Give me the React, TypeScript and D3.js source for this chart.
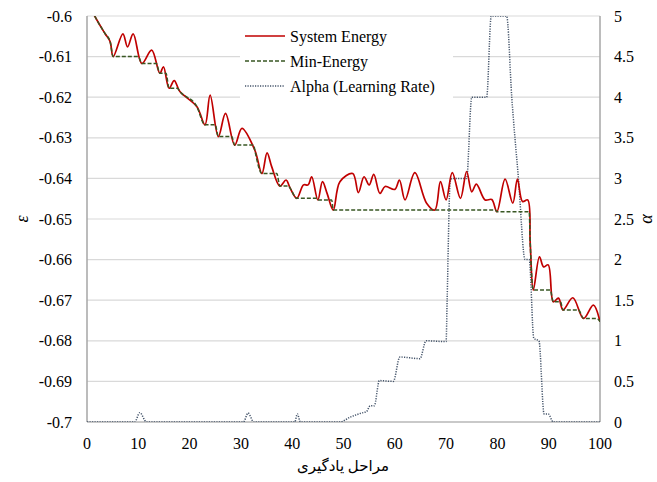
import React from "react";
import * as d3 from "d3";

const energyX = [0, 1.5, 3.5, 4.5, 5.1, 7.0, 7.9, 9.0, 10.7, 12.6, 14.2, 14.9, 16.0, 17.0, 18.1, 21.4, 23.0, 24.0, 25.6, 27.0, 28.8, 30.2, 32.7, 34.1, 35.1, 36.0, 37.6, 38.8, 39.6, 40.9, 42.2, 43.1, 43.8, 45.0, 45.9, 46.8, 48.0, 49.3, 51.8, 52.9, 54.0, 55.0, 55.9, 57.1, 58.1, 60.0, 60.9, 62.0, 63.9, 66.2, 67.8, 68.9, 70.0, 71.2, 72.8, 74.0, 75.0, 75.9, 77.6, 78.9, 79.9, 81.5, 83.0, 83.9, 84.9, 85.9, 86.4, 87.0, 88.2, 89.0, 89.9, 90.9, 91.9, 92.8, 94.7, 96.8, 98.7, 100];
const energyY = [-0.596, -0.6, -0.6043, -0.6063, -0.61, -0.6044, -0.6076, -0.6044, -0.6117, -0.6084, -0.6141, -0.6125, -0.6178, -0.6159, -0.6186, -0.6223, -0.6268, -0.6195, -0.6297, -0.624, -0.6318, -0.6277, -0.633, -0.6388, -0.6337, -0.6371, -0.6419, -0.6404, -0.6424, -0.6449, -0.6416, -0.6416, -0.6396, -0.6453, -0.6408, -0.6437, -0.6478, -0.6408, -0.6388, -0.6435, -0.6396, -0.6416, -0.639, -0.6437, -0.642, -0.6427, -0.6404, -0.6453, -0.6386, -0.6461, -0.6478, -0.6408, -0.6453, -0.6386, -0.6449, -0.6383, -0.6433, -0.6414, -0.6453, -0.6452, -0.6482, -0.6402, -0.6461, -0.6402, -0.6457, -0.6453, -0.656, -0.6675, -0.6593, -0.6618, -0.6613, -0.6704, -0.6695, -0.6724, -0.6694, -0.6745, -0.6712, -0.6753];

const minX = [0, 1.5, 3.5, 4.5, 5.1, 10.0, 10.7, 13.5, 14.2, 15.4, 16.0, 17.6, 18.1, 21.4, 23.0, 25.0, 25.6, 28.2, 28.8, 32.5, 32.7, 34.1, 37.0, 37.6, 39.3, 39.6, 40.9, 44.8, 45.0, 47.7, 48.0, 79.6, 79.9, 86.2, 86.4, 87.0, 90.3, 90.9, 92.3, 92.8, 95.8, 96.8, 99.4, 100];
const minY = [-0.596, -0.6, -0.6043, -0.6063, -0.61, -0.61, -0.6117, -0.6117, -0.6141, -0.6141, -0.6178, -0.6178, -0.6186, -0.6223, -0.6268, -0.6268, -0.6297, -0.6297, -0.6318, -0.6318, -0.633, -0.6388, -0.6388, -0.6419, -0.6419, -0.6424, -0.6449, -0.6449, -0.6453, -0.6453, -0.6478, -0.6478, -0.6482, -0.6482, -0.656, -0.6675, -0.6675, -0.6704, -0.6704, -0.6724, -0.6724, -0.6745, -0.6745, -0.6753];

const alphaX = [0, 9.3, 10.3, 11.6, 30.5, 31.4, 32.5, 40.5, 41.0, 41.6, 49.3, 51.3, 53.5, 54.5, 55.2, 56.0, 57.0, 59.7, 61.0, 64.9, 66.1, 70.0, 70.2, 70.8, 71.2, 74.0, 75.0, 77.9, 78.8, 81.8, 82.8, 84.1, 85.4, 86.2, 87.1, 88.1, 89.1, 89.9, 90.9, 100];
const alphaY = [0, 0, 0.115, 0, 0, 0.11, 0, 0, 0.1, 0, 0, 0.06, 0.11, 0.13, 0.2, 0.2, 0.51, 0.5, 0.8, 0.78, 1.0, 0.99, 1.5, 2.96, 3.0, 3.0, 4.0, 4.0, 5.0, 5.0, 4.0, 3.0, 2.0, 2.0, 1.03, 1.0, 0.1, 0.1, 0, 0];

const leftTicks = [-0.6, -0.61, -0.62, -0.63, -0.64, -0.65, -0.66, -0.67, -0.68, -0.69, -0.7];
const rightTicks = [0, 0.5, 1, 1.5, 2, 2.5, 3, 3.5, 4, 4.5, 5];
const xTicks = [0, 10, 20, 30, 40, 50, 60, 70, 80, 90, 100];
const legendLabels = ["System Energy", "Min-Energy", "Alpha (Learning Rate)"];
const xTitle = "مراحل یادگیری";

const W = 657, H = 482;
const L = 87, R = 600, T = 16, B = 422;
const serif = { fontFamily: "Liberation Serif, DejaVu Sans, serif" };

export default function App() {
  const x = d3.scaleLinear().domain([0, 100]).range([L, R]);
  const y = d3.scaleLinear().domain([-0.7, -0.6]).range([B, T]);
  const y2 = d3.scaleLinear().domain([0, 5]).range([B, T]);

  const energy = energyX.map((v, i) => [v, energyY[i]] as [number, number]);
  const minE = minX.map((v, i) => [v, minY[i]] as [number, number]);
  const alpha = alphaX.map((v, i) => [v, alphaY[i]] as [number, number]);

  const lineE = d3.line<[number, number]>().x(d => x(d[0])).y(d => y(d[1])).curve(d3.curveCatmullRom.alpha(0.5));
  const lineM = d3.line<[number, number]>().x(d => x(d[0])).y(d => y(d[1])).curve(d3.curveMonotoneX);
  const lineA = d3.line<[number, number]>().x(d => x(d[0])).y(d => y2(d[1])).curve(d3.curveMonotoneX);

  const colE = "#C00000", colM = "#385723", colA = "#44546A";

  return (
    <svg width={W} height={H} style={{ position: "absolute", left: 0, top: 0, background: "#fff" }}>
      <defs>
        <clipPath id="plot"><rect x={L} y={T} width={R - L} height={B - T} /></clipPath>
      </defs>
      {leftTicks.map(t => (
        <line key={"g" + t} x1={L} x2={R} y1={y(t)} y2={y(t)} stroke="#D9D9D9" strokeWidth={1.2} />
      ))}
      <line x1={L} x2={L} y1={T} y2={B} stroke="#A6A6A6" strokeWidth={1.5} />
      <line x1={R} x2={R} y1={T} y2={B} stroke="#A6A6A6" strokeWidth={1.5} />
      <line x1={L} x2={R} y1={B} y2={B} stroke="#A6A6A6" strokeWidth={1.2} />
      <g clipPath="url(#plot)">
        <path d={lineA(alpha) || ""} fill="none" stroke={colA} strokeWidth={1.5} strokeDasharray="1.2,1.3" />
        <path d={lineE(energy) || ""} fill="none" stroke={colE} strokeWidth={1.7} />
        <path d={lineM(minE) || ""} fill="none" stroke={colM} strokeWidth={1.5} strokeDasharray="4,2" />
      </g>
      {leftTicks.map(t => (
        <text key={"l" + t} x={72} y={y(t)} dy="0.35em" textAnchor="end" fontSize={16} fill="#000" style={serif}>{String(t)}</text>
      ))}
      {rightTicks.map(t => (
        <text key={"r" + t} x={614} y={y2(t)} dy="0.35em" textAnchor="start" fontSize={16} fill="#000" style={serif}>{String(t)}</text>
      ))}
      {xTicks.map(t => (
        <text key={"x" + t} x={x(t)} y={443} dy="0.35em" textAnchor="middle" fontSize={16} fill="#000" style={serif}>{String(t)}</text>
      ))}
      <text transform={`translate(22,${(T + B) / 2}) rotate(-90)`} textAnchor="middle" dy="0.35em" fontSize={18} fontStyle="italic" fill="#000" style={serif}>ε</text>
      <text transform={`translate(646,${(T + B) / 2}) rotate(-90)`} textAnchor="middle" dy="0.35em" fontSize={18} fontStyle="italic" fill="#000" style={serif}>α</text>
      <text x={343} y={466} dy="0.35em" textAnchor="middle" fontSize={15} fill="#000" direction="rtl" style={serif}>{xTitle}</text>
      <g>
        <rect x={240} y={22} width={213} height={78} fill="#fff" />
        {legendLabels.map((lab, i) => {
          const cy = 36 + i * 25;
          const col = [colE, colM, colA][i];
          const dash = ["", "4,2", "1.2,1.3"][i];
          return (
            <g key={lab}>
              <line x1={245} x2={285} y1={cy} y2={cy} stroke={col} strokeWidth={1.5} strokeDasharray={dash || undefined} />
              <text x={290} y={cy} dy="0.35em" fontSize={16} fill="#000" style={serif}>{lab}</text>
            </g>
          );
        })}
      </g>
    </svg>
  );
}
